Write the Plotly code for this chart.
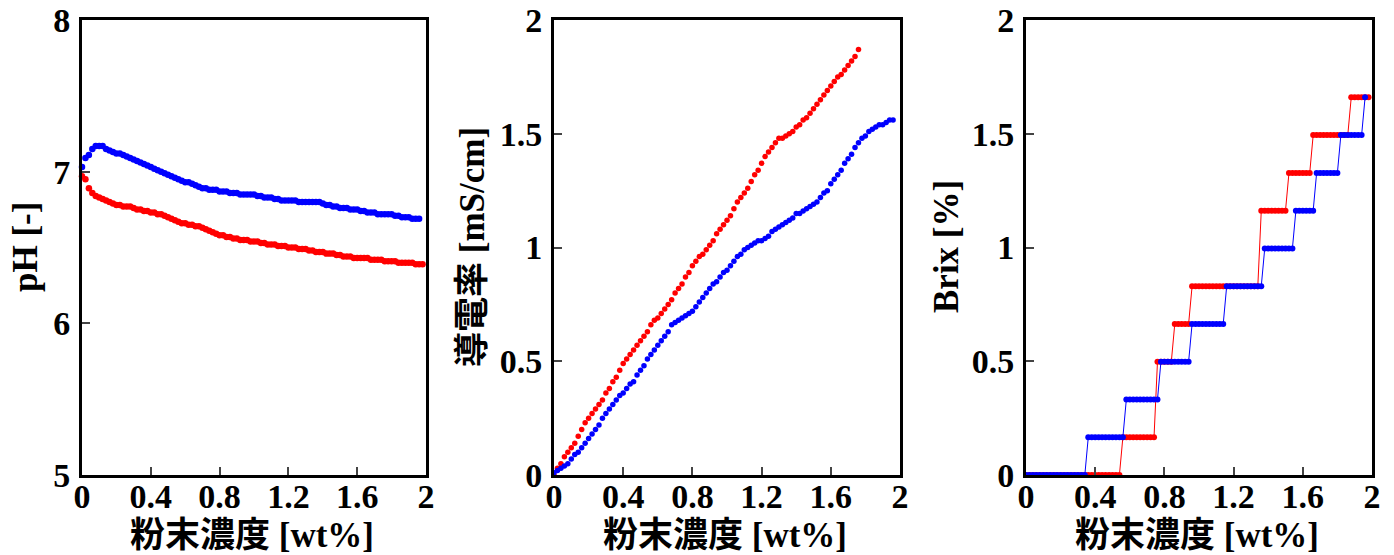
import plotly.graph_objects as go

# ---------------- data ----------------
conc = [0.00, 0.02, 0.04, 0.06, 0.08, 0.10, 0.12, 0.14, 0.16, 0.18,
        0.20, 0.22, 0.24, 0.26, 0.28, 0.30, 0.32, 0.34, 0.36, 0.38,
        0.40, 0.42, 0.44, 0.46, 0.48, 0.50, 0.52, 0.54, 0.56, 0.58,
        0.60, 0.62, 0.64, 0.66, 0.68, 0.70, 0.72, 0.74, 0.76, 0.78,
        0.80, 0.82, 0.84, 0.86, 0.88, 0.90, 0.92, 0.94, 0.96, 0.98,
        1.00, 1.02, 1.04, 1.06, 1.08, 1.10, 1.12, 1.14, 1.16, 1.18,
        1.20, 1.22, 1.24, 1.26, 1.28, 1.30, 1.32, 1.34, 1.36, 1.38,
        1.40, 1.42, 1.44, 1.46, 1.48, 1.50, 1.52, 1.54, 1.56, 1.58,
        1.60, 1.62, 1.64, 1.66, 1.68, 1.70, 1.72, 1.74, 1.76, 1.78,
        1.80, 1.82, 1.84, 1.86, 1.88, 1.90, 1.92, 1.94, 1.96, 1.98]

ph_blue = [7.03, 7.09, 7.11, 7.15, 7.17, 7.17, 7.17, 7.15, 7.14, 7.13,
           7.12, 7.12, 7.11, 7.10, 7.09, 7.08, 7.07, 7.06, 7.05, 7.04,
           7.03, 7.02, 7.01, 7.00, 6.99, 6.98, 6.97, 6.96, 6.95, 6.94,
           6.93, 6.93, 6.92, 6.91, 6.90, 6.89, 6.89, 6.88, 6.88, 6.88,
           6.87, 6.87, 6.87, 6.86, 6.86, 6.86, 6.85, 6.85, 6.85, 6.85,
           6.85, 6.84, 6.84, 6.83, 6.83, 6.83, 6.82, 6.82, 6.81, 6.81,
           6.81, 6.81, 6.81, 6.80, 6.80, 6.80, 6.80, 6.80, 6.80, 6.80,
           6.79, 6.78, 6.78, 6.77, 6.77, 6.76, 6.76, 6.76, 6.75, 6.75,
           6.75, 6.74, 6.74, 6.73, 6.73, 6.73, 6.72, 6.72, 6.72, 6.72,
           6.72, 6.71, 6.71, 6.70, 6.70, 6.70, 6.69, 6.69, 6.69]

ph_red = [6.97, 6.95, 6.89, 6.86, 6.84, 6.83, 6.82, 6.81, 6.80, 6.79,
          6.78, 6.78, 6.77, 6.77, 6.77, 6.76, 6.75, 6.75, 6.74, 6.74,
          6.73, 6.73, 6.72, 6.72, 6.71, 6.70, 6.69, 6.68, 6.67, 6.66,
          6.66, 6.65, 6.65, 6.64, 6.64, 6.63, 6.62, 6.61, 6.60, 6.59,
          6.58, 6.58, 6.57, 6.57, 6.56, 6.56, 6.55, 6.55, 6.55, 6.54,
          6.54, 6.54, 6.53, 6.53, 6.52, 6.52, 6.52, 6.51, 6.51, 6.51,
          6.50, 6.50, 6.50, 6.49, 6.49, 6.49, 6.48, 6.48, 6.47, 6.47,
          6.47, 6.46, 6.46, 6.46, 6.45, 6.45, 6.44, 6.44, 6.44, 6.43,
          6.43, 6.43, 6.43, 6.43, 6.42, 6.42, 6.42, 6.42, 6.41, 6.41,
          6.41, 6.41, 6.40, 6.40, 6.40, 6.40, 6.40, 6.39, 6.39, 6.39]

cond_red = [0.00, 0.03, 0.05, 0.08, 0.10, 0.12, 0.14, 0.17, 0.20, 0.23,
            0.25, 0.27, 0.29, 0.31, 0.33, 0.36, 0.38, 0.41, 0.43, 0.46,
            0.49, 0.51, 0.53, 0.55, 0.57, 0.59, 0.61, 0.63, 0.66, 0.68,
            0.69, 0.71, 0.73, 0.75, 0.77, 0.80, 0.82, 0.84, 0.87, 0.89,
            0.92, 0.94, 0.96, 0.97, 0.99, 1.01, 1.03, 1.06, 1.08, 1.10,
            1.12, 1.14, 1.17, 1.20, 1.22, 1.24, 1.26, 1.29, 1.32, 1.34,
            1.37, 1.40, 1.42, 1.44, 1.46, 1.48, 1.48, 1.49, 1.50, 1.51,
            1.53, 1.54, 1.56, 1.57, 1.59, 1.61, 1.63, 1.65, 1.67, 1.69,
            1.71, 1.73, 1.75, 1.76, 1.78, 1.80, 1.82, 1.84, 1.87]

cond_blue = [0.01, 0.02, 0.03, 0.04, 0.05, 0.07, 0.09, 0.10, 0.12, 0.14,
             0.16, 0.18, 0.20, 0.22, 0.25, 0.27, 0.29, 0.31, 0.33, 0.35,
             0.36, 0.38, 0.40, 0.41, 0.44, 0.46, 0.48, 0.51, 0.53, 0.55,
             0.57, 0.59, 0.61, 0.63, 0.66, 0.67, 0.68, 0.69, 0.70, 0.71,
             0.72, 0.74, 0.76, 0.78, 0.80, 0.82, 0.84, 0.85, 0.87, 0.89,
             0.90, 0.92, 0.94, 0.96, 0.97, 0.99, 1.00, 1.01, 1.02, 1.03,
             1.03, 1.04, 1.05, 1.07, 1.08, 1.09, 1.10, 1.11, 1.12, 1.13,
             1.15, 1.15, 1.16, 1.17, 1.18, 1.19, 1.20, 1.22, 1.24, 1.25,
             1.28, 1.30, 1.32, 1.34, 1.37, 1.39, 1.41, 1.44, 1.46, 1.48,
             1.49, 1.51, 1.52, 1.53, 1.54, 1.54, 1.55, 1.56, 1.56]

brix_blue = [0, 0, 0, 0, 0, 0, 0, 0, 0, 0, 0, 0, 0, 0, 0, 0, 0, 0,
             0.166, 0.166, 0.166, 0.166, 0.166, 0.166, 0.166, 0.166, 0.166, 0.166, 0.166,
             0.332, 0.332, 0.332, 0.332, 0.332, 0.332, 0.332, 0.332, 0.332, 0.332,
             0.498, 0.498, 0.498, 0.498, 0.498, 0.498, 0.498, 0.498, 0.498,
             0.664, 0.664, 0.664, 0.664, 0.664, 0.664, 0.664, 0.664, 0.664, 0.664,
             0.830, 0.830, 0.830, 0.830, 0.830, 0.830, 0.830, 0.830, 0.830, 0.830, 0.830,
             0.996, 0.996, 0.996, 0.996, 0.996, 0.996, 0.996, 0.996, 0.996,
             1.162, 1.162, 1.162, 1.162, 1.162, 1.162,
             1.328, 1.328, 1.328, 1.328, 1.328, 1.328, 1.328,
             1.494, 1.494, 1.494, 1.494, 1.494, 1.494, 1.494,
             1.660]

brix_red = [0, 0, 0, 0, 0, 0, 0, 0, 0, 0, 0, 0, 0, 0,
            0, 0, 0, 0, 0, 0, 0, 0, 0, 0, 0, 0, 0, 0,
            0.166, 0.166, 0.166, 0.166, 0.166, 0.166, 0.166, 0.166, 0.166, 0.166,
            0.498, 0.498, 0.498, 0.498, 0.498,
            0.664, 0.664, 0.664, 0.664, 0.664,
            0.830, 0.830, 0.830, 0.830, 0.830, 0.830, 0.830, 0.830, 0.830, 0.830,
            0.830, 0.830, 0.830, 0.830, 0.830, 0.830, 0.830, 0.830, 0.830, 0.830,
            1.162, 1.162, 1.162, 1.162, 1.162, 1.162, 1.162, 1.162,
            1.328, 1.328, 1.328, 1.328, 1.328, 1.328, 1.328,
            1.494, 1.494, 1.494, 1.494, 1.494, 1.494, 1.494, 1.494, 1.494, 1.494, 1.494,
            1.660, 1.660, 1.660, 1.660, 1.660, 1.660]

x_ticks = [0, 0.4, 0.8, 1.2, 1.6, 2]
x_tick_text = ["0", "0.4", "0.8", "1.2", "1.6", "2"]
ph_ticks = [5, 6, 7, 8]
ph_tick_text = ["5", "6", "7", "8"]
y2_ticks = [0, 0.5, 1, 1.5, 2]
y2_tick_text = ["0", "0.5", "1", "1.5", "2"]

x_title = "粉末濃度 [wt%]"
y_titles = ["pH [-]", "導電率 [mS/cm]", "Brix [%]"]

RED = "#ff0000"
BLUE = "#0000ff"
FONT = "Liberation Serif, Times New Roman, Noto Sans CJK JP"

W, H = 1394, 555
OFF = 8  # the page body adds an 8 px margin around the figure
# pixel boxes (page coordinates) of the three plot areas
boxes = [(82, 426), (554, 900), (1026, 1372)]
top_px, bot_px = 20, 475


def px_x(p):
    return (p - OFF) / W


def px_y(p):
    return 1 - (p - OFF) / H


fig = go.Figure()


def add(xs, ys, color, axis_idx, size, mode="markers", lw=1):
    sfx = "" if axis_idx == 1 else str(axis_idx)
    fig.add_trace(go.Scatter(
        x=xs, y=ys, mode=mode,
        marker=dict(color=color, size=size, line=dict(width=0)),
        line=dict(color=color, width=lw),
        xaxis="x" + sfx, yaxis="y" + sfx,
        showlegend=False, cliponaxis=False, hoverinfo="x+y"))


add(conc[:len(ph_red)], ph_red, RED, 1, 6.5)
add(conc[:len(ph_blue)], ph_blue, BLUE, 1, 6.5)
add(conc[:len(cond_red)], cond_red, RED, 2, 5.5)
add(conc[:len(cond_blue)], cond_blue, BLUE, 2, 5.5)
add(conc[:len(brix_red)], brix_red, RED, 3, 6, mode="lines+markers")
add(conc[:len(brix_blue)], brix_blue, BLUE, 3, 6, mode="lines+markers")

tickfont = dict(family=FONT, size=34, color="black", weight="bold")
ydom = [px_y(bot_px), px_y(top_px)]

layout = dict(width=W, height=H, margin=dict(l=0, r=0, t=0, b=0, autoexpand=False),
              paper_bgcolor="white", plot_bgcolor="white", showlegend=False)

for i, (x0, x1) in enumerate(boxes):
    sfx = "" if i == 0 else str(i + 1)
    common = dict(showline=True, linecolor="black", linewidth=3, mirror=True,
                  showgrid=False, zeroline=False, ticks="inside", ticklen=8,
                  tickwidth=1.5, tickcolor="#444", tickfont=tickfont,
                  automargin=False, ticklabeloverflow="allow")
    layout["xaxis" + sfx] = dict(common, domain=[px_x(x0), px_x(x1)], range=[0, 2],
                                 tickvals=x_ticks, ticktext=x_tick_text,
                                 anchor="y" + sfx, ticklabelstandoff=-11)
    if i == 0:
        yt, ytt, yr = ph_ticks, ph_tick_text, [5, 8]
    else:
        yt, ytt, yr = y2_ticks, y2_tick_text, [0, 2]
    layout["yaxis" + sfx] = dict(common, domain=ydom, range=yr,
                                 tickvals=yt, ticktext=ytt,
                                 anchor="x" + sfx, ticklabelstandoff=2)

fig.update_layout(**layout)

titlefont = dict(family=FONT, size=35, color="black", weight="bold")
xcenters = [252, 725, 1197]
ytitle_x = [25, 472, 946]
for i in range(3):
    fig.add_annotation(text=x_title, xref="paper", yref="paper",
                       x=px_x(xcenters[i]), y=px_y(535), xanchor="center",
                       yanchor="middle", showarrow=False, font=titlefont)
    fig.add_annotation(text=y_titles[i], xref="paper", yref="paper",
                       x=px_x(ytitle_x[i]), y=px_y(247), xanchor="center",
                       yanchor="middle", showarrow=False, font=titlefont,
                       textangle=-90)

fig.write_html("out.html")
